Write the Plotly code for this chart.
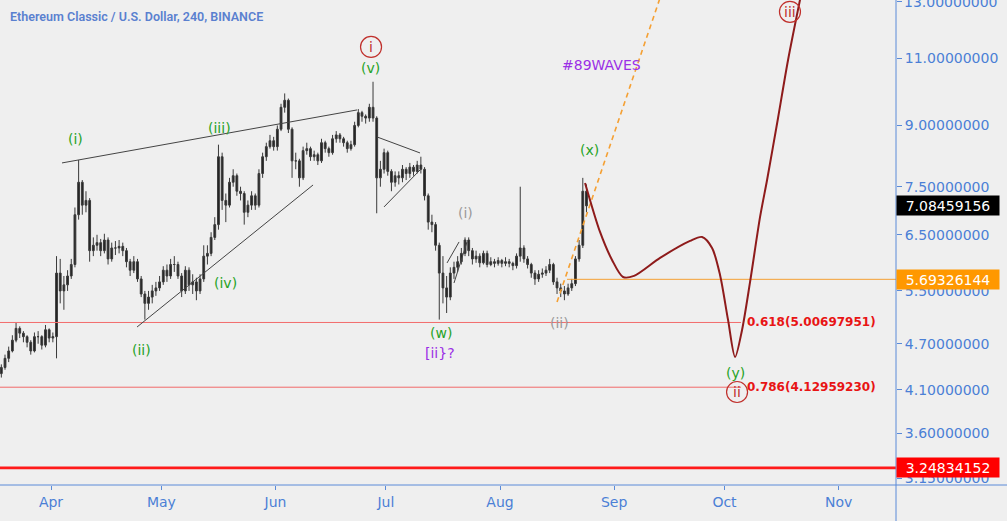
import numpy as np
import pandas as pd
import plotly.graph_objects as go

# ---------------- data (daily candles) ----------------
dates = pd.date_range("2019-03-18 12:00", periods=160, freq="D")

opens = [4.30, 4.38, 4.50, 4.60, 4.75, 4.92, 4.85, 4.80, 4.72, 4.60,
         4.80, 4.80, 4.68, 4.90, 4.78, 4.80, 5.80, 5.50, 5.60, 5.75,
         5.95, 6.90, 7.60, 7.10, 7.20, 6.20, 6.30, 6.35, 6.20, 6.40,
         6.05, 6.25, 6.25, 6.28, 6.20, 6.00, 5.85, 6.00, 5.70, 5.45,
         5.30, 5.40, 5.50, 5.55, 5.65, 5.85, 5.75, 5.95, 5.95, 5.75,
         5.50, 5.85, 5.60, 5.65, 5.50, 5.70, 6.10, 6.15, 6.45, 6.70,
         8.20, 7.20, 7.10, 7.60, 7.75, 7.40, 7.35, 6.95, 7.10, 7.30,
         7.10, 7.80, 8.20, 8.45, 8.60, 8.45, 8.90, 9.50, 9.70, 8.90,
         8.10, 8.10, 7.70, 8.35, 8.40, 8.20, 8.25, 8.10, 8.55, 8.40,
         8.30, 8.65, 8.75, 8.65, 8.55, 8.40, 8.50, 9.00, 9.35, 9.25,
         9.20, 9.50, 9.20, 7.70, 7.90, 8.30, 7.85, 7.60, 7.75, 7.70,
         7.90, 7.80, 7.95, 7.85, 8.00, 7.90, 7.30, 6.75, 6.70, 6.30,
         5.80, 5.55, 5.40, 5.80, 5.90, 6.00, 6.15, 6.40, 6.20, 6.05,
         6.10, 5.98, 6.15, 5.95, 6.00, 5.97, 6.02, 5.97, 6.00, 5.97,
         5.93, 6.10, 6.25, 6.05, 5.95, 5.80, 5.70, 5.78, 5.80, 5.85,
         5.95, 5.65, 5.55, 5.50, 5.45, 5.55, 5.62, 6.05, 6.30, 7.40]

highs = [4.42, 4.55, 4.66, 4.82, 5.00, 4.95, 4.88, 4.82, 4.75, 4.86,
         4.88, 4.82, 4.97, 4.92, 4.86, 6.10, 6.05, 5.75, 5.85, 6.05,
         7.05, 8.12, 7.65, 7.40, 7.25, 6.45, 6.50, 6.42, 6.52, 6.45,
         6.35, 6.38, 6.40, 6.35, 6.25, 6.05, 6.10, 6.05, 5.75, 5.50,
         5.50, 5.60, 5.65, 5.75, 5.92, 5.95, 6.05, 6.10, 6.00, 5.80,
         5.92, 5.90, 5.78, 5.72, 5.78, 6.30, 6.30, 6.55, 6.85, 8.50,
         8.30, 7.35, 7.70, 7.90, 7.80, 7.50, 7.40, 7.20, 7.40, 7.35,
         7.90, 8.30, 8.55, 8.75, 8.70, 9.00, 9.60, 9.90, 9.75, 8.95,
         8.30, 8.15, 8.45, 8.55, 8.45, 8.35, 8.30, 8.65, 8.60, 8.45,
         8.75, 8.85, 8.80, 8.70, 8.60, 8.60, 9.10, 9.45, 9.40, 9.30,
         9.60, 10.25, 9.25, 8.10, 8.40, 8.35, 7.90, 7.85, 7.85, 8.00,
         7.95, 8.05, 8.00, 8.10, 8.20, 7.95, 7.35, 6.90, 6.75, 6.35,
         6.10, 5.75, 5.90, 6.00, 6.10, 6.25, 6.45, 6.45, 6.25, 6.20,
         6.15, 6.20, 6.20, 6.08, 6.05, 6.08, 6.05, 6.08, 6.05, 6.00,
         6.15, 7.50, 6.30, 6.10, 5.98, 5.85, 5.85, 5.88, 5.92, 6.05,
         5.98, 5.72, 5.62, 5.58, 5.62, 5.70, 6.10, 6.40, 7.70, 7.55]

lows = [4.25, 4.35, 4.45, 4.58, 4.72, 4.78, 4.72, 4.65, 4.55, 4.58,
        4.70, 4.62, 4.65, 4.72, 4.72, 4.50, 5.30, 5.20, 5.50, 5.70,
        5.90, 6.80, 6.90, 6.95, 6.00, 6.10, 6.20, 6.10, 6.15, 5.95,
        6.00, 6.12, 6.15, 6.10, 5.90, 5.75, 5.80, 5.65, 5.40, 5.05,
        5.20, 5.30, 5.42, 5.50, 5.60, 5.65, 5.70, 5.82, 5.70, 5.40,
        5.45, 5.50, 5.45, 5.35, 5.45, 5.65, 5.95, 6.10, 6.40, 6.60,
        7.00, 6.75, 7.05, 7.50, 7.30, 7.20, 6.70, 6.85, 7.00, 7.00,
        7.05, 7.70, 8.10, 8.40, 8.35, 8.35, 8.85, 9.35, 8.80, 7.70,
        7.90, 7.50, 7.65, 8.25, 8.10, 8.10, 8.00, 8.05, 8.30, 8.20,
        8.25, 8.55, 8.55, 8.45, 8.30, 8.35, 8.45, 8.95, 9.10, 9.05,
        9.10, 9.10, 6.93, 7.50, 7.80, 7.75, 7.40, 7.50, 7.55, 7.60,
        7.65, 7.70, 7.75, 7.80, 7.80, 7.20, 6.60, 6.55, 6.20, 5.05,
        5.30, 5.15, 5.35, 5.70, 5.82, 5.95, 6.10, 6.10, 5.95, 5.98,
        5.90, 5.95, 5.90, 5.92, 5.90, 5.93, 5.90, 5.92, 5.90, 5.85,
        5.88, 6.00, 5.98, 5.88, 5.72, 5.60, 5.65, 5.72, 5.75, 5.80,
        5.60, 5.45, 5.40, 5.35, 5.42, 5.50, 5.58, 6.00, 6.25, 6.95]

closes = [4.38, 4.50, 4.60, 4.75, 4.92, 4.85, 4.80, 4.72, 4.60, 4.80,
          4.80, 4.68, 4.90, 4.78, 4.80, 5.80, 5.50, 5.60, 5.75, 5.95,
          6.90, 7.60, 7.10, 7.20, 6.20, 6.30, 6.35, 6.20, 6.40, 6.05,
          6.25, 6.25, 6.28, 6.20, 6.00, 5.85, 6.00, 5.70, 5.45, 5.30,
          5.40, 5.50, 5.55, 5.65, 5.85, 5.75, 5.95, 5.95, 5.75, 5.50,
          5.85, 5.60, 5.65, 5.50, 5.70, 6.10, 6.15, 6.45, 6.70, 8.20,
          7.20, 7.10, 7.60, 7.75, 7.40, 7.35, 6.95, 7.10, 7.30, 7.10,
          7.80, 8.20, 8.45, 8.60, 8.45, 8.90, 9.50, 9.70, 8.90, 8.10,
          8.10, 7.70, 8.35, 8.40, 8.20, 8.25, 8.10, 8.55, 8.40, 8.30,
          8.65, 8.75, 8.65, 8.55, 8.40, 8.50, 9.00, 9.35, 9.25, 9.20,
          9.50, 9.20, 7.70, 7.90, 8.30, 7.85, 7.60, 7.75, 7.70, 7.90,
          7.80, 7.95, 7.85, 8.00, 7.90, 7.30, 6.75, 6.70, 6.30, 5.80,
          5.55, 5.40, 5.80, 5.90, 6.00, 6.15, 6.40, 6.20, 6.05, 6.10,
          5.98, 6.15, 5.95, 6.00, 5.97, 6.02, 5.97, 6.00, 5.97, 5.93,
          6.10, 6.25, 6.05, 5.95, 5.80, 5.70, 5.78, 5.80, 5.85, 5.95,
          5.65, 5.55, 5.50, 5.45, 5.55, 5.62, 6.05, 6.30, 7.40, 7.0846]

y_ticks = [3.15, 3.6, 4.1, 4.7, 5.5, 6.5, 7.5, 9.0, 11.0, 13.0]
y_tick_text = ["3.15000000", "3.60000000", "4.10000000", "4.70000000", "5.50000000",
               "6.50000000", "7.50000000", "9.00000000", "11.00000000", "13.00000000"]
month_ticks = ["2019-04-01", "2019-05-01", "2019-06-01", "2019-07-01",
               "2019-08-01", "2019-09-01", "2019-10-01", "2019-11-01"]
month_text = ["Apr", "May", "Jun", "Jul", "Aug", "Sep", "Oct", "Nov"]

last_price = 7.08459156
orange_level = 5.69326144
red_level = 3.24834152
fib_levels = [5.00697951, 4.12959230]
fib_names = ["0.618", "0.786"]

# trend lines (date0, price0, date1, price1)
trend_lines = [
    ("2019-04-03 23:45", 8.05, "2019-06-23 03:40", 9.425),
    ("2019-04-24 09:00", 4.94, "2019-06-11 04:50", 7.539),
    ("2019-06-28 14:10", 8.697, "2019-07-10 06:30", 8.293),
    ("2019-06-30 11:45", 7.062, "2019-07-10 06:30", 7.883),
    ("2019-07-17 14:30", 5.977, "2019-07-20 21:00", 6.363),
    ("2019-07-19 12:00", 5.631, "2019-07-23 01:00", 6.363),
]
dash_line_dates = ["2019-08-16 12:00", "2019-09-14 00:45"]
dash_line_prices = [5.322, 13.39]

proj_dates = ["2019-08-24 02:40", "2019-08-28 04:20", "2019-08-31 10:50", "2019-09-03 10:20",
              "2019-09-06 10:00", "2019-09-13 11:45", "2019-09-21 15:20", "2019-09-24 21:40",
              "2019-09-27 15:00", "2019-09-29 19:00", "2019-10-01 23:15", "2019-10-03 21:00",
              "2019-10-05 18:30", "2019-10-07 22:50", "2019-10-10 16:00", "2019-10-12 13:40",
              "2019-10-15 13:15", "2019-10-18 06:30", "2019-10-21 19:00"]
proj_prices = [7.585, 6.555, 6.031, 5.733, 5.751, 6.067, 6.382, 6.458, 6.250, 5.767,
               5.045, 4.519, 4.897, 5.649, 6.855, 7.652, 9.203, 10.937, 13.27]

GREEN = "#27a327"
GREY = "#9a9a9a"
PURPLE = "#9b2fe6"
wave_labels = [
    ("(i)", "2019-04-07 12:30", 8.645, GREEN),
    ("(ii)", "2019-04-25 11:00", 4.614, GREEN),
    ("(iii)", "2019-05-16 15:40", 8.932, GREEN),
    ("(iv)", "2019-05-18 06:45", 5.631, GREEN),
    ("(v)", "2019-06-26 16:20", 10.68, GREEN),
    ("(w)", "2019-07-15 23:30", 4.853, GREEN),
    ("[ii}?", "2019-07-15 17:00", 4.573, PURPLE),
    ("(i)", "2019-07-22 12:00", 6.937, GREY),
    ("(ii)", "2019-08-17 01:00", 5.0, GREY),
    ("(x)", "2019-08-25 04:50", 8.368, GREEN),
    ("(y)", "2019-10-03 21:00", 4.309, GREEN),
    ("#89WAVES", "2019-08-28 11:00", 10.776, PURPLE),
]
circled_labels = [
    ("i", "2019-06-26 23:00", 11.37),
    ("ii", "2019-10-04 10:00", 4.071),
    ("iii", "2019-10-18 19:00", 12.62),
]

x_left = "2019-03-18 03:20"
x_right = "2019-11-16 14:30"
fib_end = "2019-10-05 12:00"
fib_text_x = "2019-10-06 14:00"
orange_start = "2019-08-19 05:00"

# ---------------- figure ----------------
FONT = "DejaVu Sans"
AXIS_BLUE = "#4b7fd6"
BG = "#efefef"

fig = go.Figure()

# fib level lines
for lv in fib_levels:
    fig.add_trace(go.Scatter(x=[x_left, fib_end], y=[lv, lv], mode="lines",
                             line=dict(color="#f26b6b", width=1), hoverinfo="skip"))
# orange level
fig.add_trace(go.Scatter(x=[orange_start, x_right], y=[orange_level, orange_level], mode="lines",
                         line=dict(color="#f5a033", width=1), hoverinfo="skip"))
# red level
fig.add_trace(go.Scatter(x=[x_left, x_right], y=[red_level, red_level], mode="lines",
                         line=dict(color="#ff1a1a", width=2.6), hoverinfo="skip"))

# candles
fig.add_trace(go.Candlestick(
    x=dates, open=opens, high=highs, low=lows, close=closes,
    increasing=dict(line=dict(color="#3a3a3a", width=1), fillcolor="#222222"),
    decreasing=dict(line=dict(color="#3a3a3a", width=1), fillcolor="#222222"),
    whiskerwidth=0, hoverinfo="skip"))

# trend lines
for d0, p0, d1, p1 in trend_lines:
    fig.add_trace(go.Scatter(x=[d0, d1], y=[p0, p1], mode="lines",
                             line=dict(color="#444444", width=1), hoverinfo="skip"))

# dashed orange projection
fig.add_trace(go.Scatter(x=dash_line_dates, y=dash_line_prices, mode="lines",
                         line=dict(color="#f5a033", width=1.6, dash="5px,4px"), hoverinfo="skip"))

# maroon projection path
fig.add_trace(go.Scatter(x=proj_dates, y=proj_prices, mode="lines",
                         line=dict(color="#8e1b1b", width=2, shape="spline", smoothing=0.8),
                         hoverinfo="skip"))

# circles for circled labels
fig.add_trace(go.Scatter(x=[c[1] for c in circled_labels], y=[c[2] for c in circled_labels],
                         mode="markers",
                         marker=dict(symbol="circle-open", size=21,
                                     line=dict(color="#c0302c", width=1.2), color="#c0302c"),
                         hoverinfo="skip"))

annotations = []
for txt, d, p, col in wave_labels:
    annotations.append(dict(x=d, y=np.log10(p), xref="x", yref="y", text=txt, showarrow=False,
                            font=dict(family=FONT, size=14, color=col)))
for txt, d, p in circled_labels:
    annotations.append(dict(x=d, y=np.log10(p), xref="x", yref="y", text=txt, showarrow=False,
                            font=dict(family=FONT, size=14, color="#c0302c")))
for name, lv in zip(fib_names, fib_levels):
    annotations.append(dict(x=fib_text_x, y=np.log10(lv), xref="x", yref="y",
                            text=f"{name}({lv:.8f})", showarrow=False, xanchor="left",
                            font=dict(family=FONT, size=12, color="#e81414", weight="bold")))

# top tick label (partly cut off at the top edge, as in the reference)
annotations.append(dict(x=1, y=np.log10(y_ticks[-1]), xref="paper", yref="y",
                        text=y_tick_text[-1], showarrow=False, xanchor="left", yanchor="middle",
                        xshift=6, font=dict(family=FONT, size=14, color=AXIS_BLUE)))

# price label boxes on the axis
for val, bg in [(last_price, "#000000"), (orange_level, "#ff9800"), (red_level, "#ff0000")]:
    annotations.append(dict(x=1, y=np.log10(val), xref="paper", yref="y", text=f"{val:.8f}",
                            showarrow=False, xanchor="left", yanchor="middle",
                            width=100, height=17, align="center", bgcolor=bg, borderpad=1,
                            font=dict(family=FONT, size=14, color="#ffffff")))

# title
annotations.append(dict(x=0.009, y=0.967, xref="paper", yref="paper",
                        text="Ethereum Classic / U.S. Dollar, 240, BINANCE", showarrow=False,
                        xanchor="left", yanchor="middle",
                        font=dict(family="Roboto", size=12.5, color="#5a80cf", weight=600)))

shapes = [
    dict(type="line", xref="paper", yref="paper", x0=0, x1=1.125, y0=0, y1=0,
         line=dict(color="#5a8ad8", width=1)),
    dict(type="line", xref="paper", yref="paper", x0=1, x1=1, y0=-0.08, y1=1,
         line=dict(color="#5a8ad8", width=1)),
]

fig.update_layout(
    width=1007, height=521,
    margin=dict(l=0, r=111, t=0, b=36),
    paper_bgcolor=BG, plot_bgcolor=BG,
    showlegend=False,
    annotations=annotations,
    shapes=shapes,
    xaxis=dict(type="date", range=[x_left, x_right], tickvals=month_ticks, ticktext=month_text,
               ticks="outside", ticklen=4, tickcolor="#5a8ad8",
               tickfont=dict(family=FONT, size=14, color=AXIS_BLUE),
               showgrid=False, zeroline=False, showline=False,
               rangeslider=dict(visible=False), fixedrange=True, automargin=False),
    yaxis=dict(type="log", side="right", range=[0.4895, 1.1164],
               tickvals=y_ticks, ticktext=y_tick_text,
               ticks="outside", ticklen=5, tickcolor="#5a8ad8",
               tickfont=dict(family=FONT, size=14, color=AXIS_BLUE),
               showgrid=False, zeroline=False, showline=False, fixedrange=True,
               automargin=False),
)

fig.write_html("out.html")
